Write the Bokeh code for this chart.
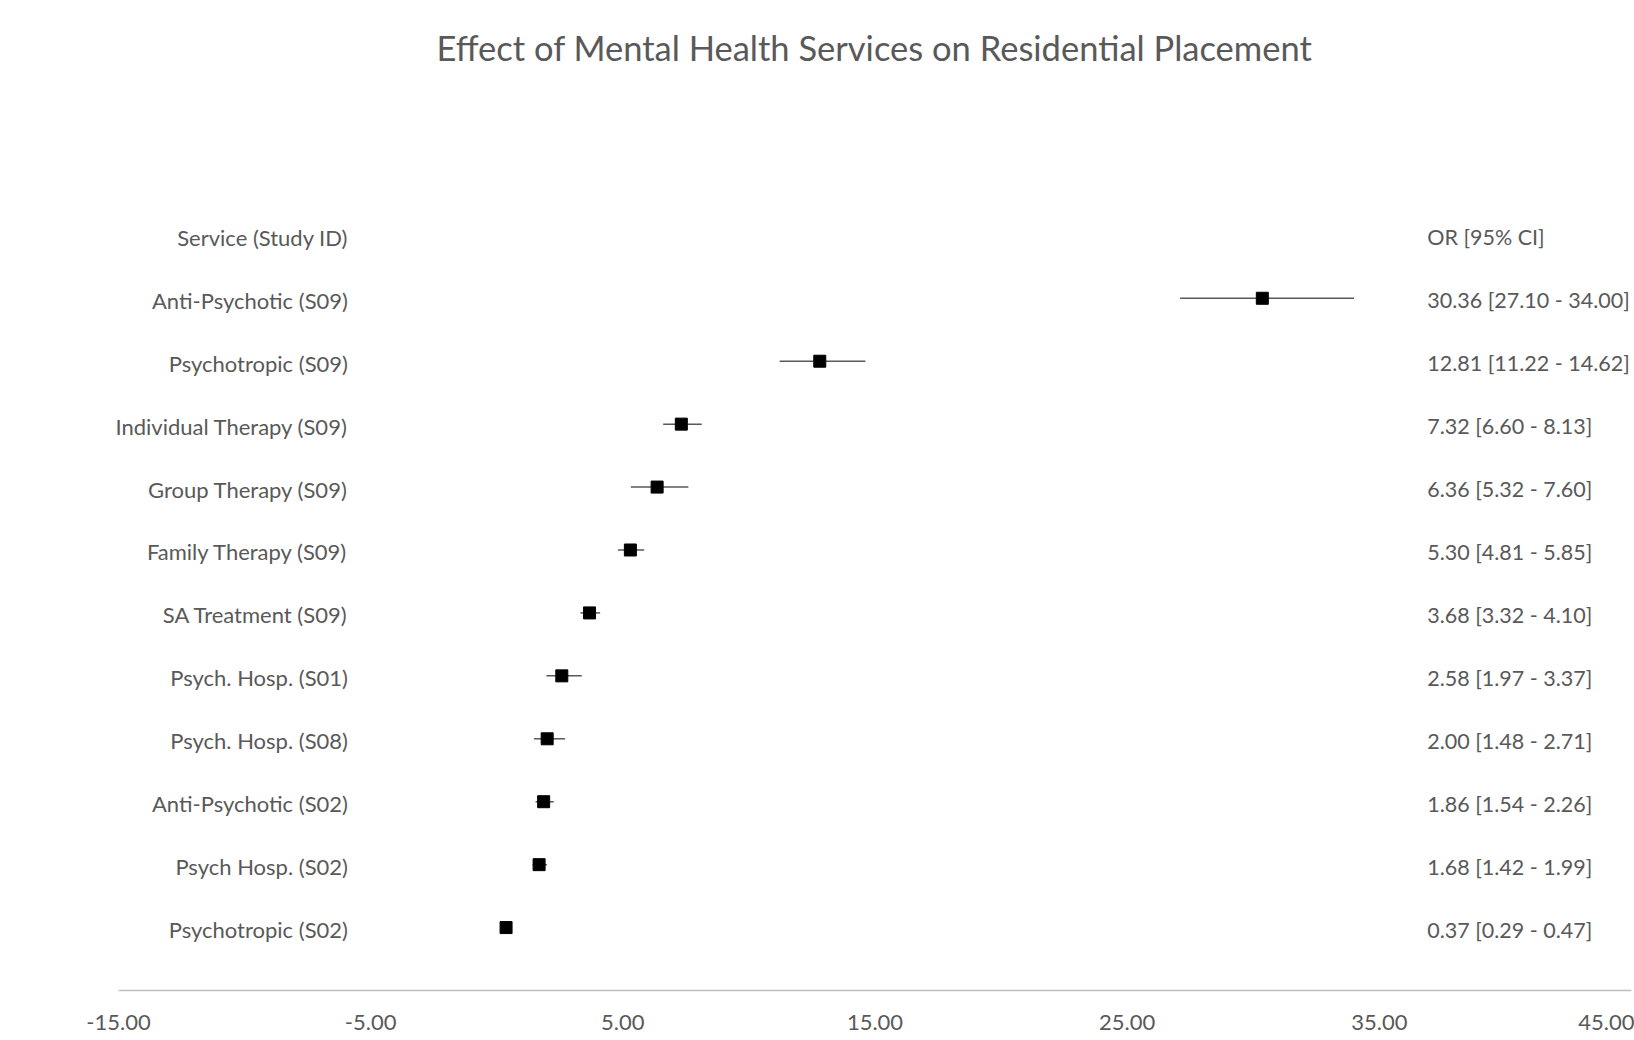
from bokeh.plotting import figure
from bokeh.models import ColumnDataSource, FixedTicker, NumeralTickFormatter, Range1d
from bokeh.core.properties import value
from bokeh.embed import file_html
from bokeh.resources import INLINE

# ---- data ----
services = [
    "Anti-Psychotic (S09)",
    "Psychotropic (S09)",
    "Individual Therapy (S09)",
    "Group Therapy (S09)",
    "Family Therapy (S09)",
    "SA Treatment (S09)",
    "Psych. Hosp. (S01)",
    "Psych. Hosp. (S08)",
    "Anti-Psychotic (S02)",
    "Psych Hosp. (S02)",
    "Psychotropic (S02)",
]
odds_ratio = [30.36, 12.81, 7.32, 6.36, 5.30, 3.68, 2.58, 2.00, 1.86, 1.68, 0.37]
ci_low = [27.10, 11.22, 6.60, 5.32, 4.81, 3.32, 1.97, 1.48, 1.54, 1.42, 0.29]
ci_high = [34.00, 14.62, 8.13, 7.60, 5.85, 4.10, 3.37, 2.71, 2.26, 1.99, 0.47]
x_ticks = [-15, -5, 5, 15, 25, 35, 45]
left_header = "Service (Study ID)"
right_header = "OR [95% CI]"

# ---- styling constants ----
FONT = "Lato"
TEXT_COLOR = "#595959"
LEFT_SIZE = "22px"
RIGHT_SIZE = "21.5px"
LEFT_X = -5.9
RIGHT_X = 36.9
AXIS_MIN, AXIS_MAX = -15, 45
PX_PER_UNIT = 25.22
LEFT_MARGIN_PX = 118
ROW_PX = 62.94
TOP_BORDER = 70
FRAME_TOP_PX = 109  # where y=14 should sit

n = len(services)
rows = list(range(n, 0, -1))
or_labels = [f"{o:.2f} [{l:.2f} - {h:.2f}]" for o, l, h in zip(odds_ratio, ci_low, ci_high)]

src = ColumnDataSource(dict(
    y=rows, name=services, orv=odds_ratio, lo=ci_low, hi=ci_high, lab=or_labels,
))

p = figure(
    width=1634, height=1040,
    x_range=Range1d(AXIS_MIN - LEFT_MARGIN_PX / PX_PER_UNIT, AXIS_MAX),
    y_range=Range1d(0, 14 + (FRAME_TOP_PX - TOP_BORDER) / ROW_PX),
    output_backend="svg", toolbar_location=None,
    y_axis_location=None,
    min_border_left=0, min_border_right=3,
    min_border_top=TOP_BORDER, min_border_bottom=50,
    title="Effect of Mental Health Services on Residential Placement",
)
p.outline_line_color = None
p.grid.visible = False
p.background_fill_color = "white"
p.border_fill_color = "white"

p.title.align = "left"
p.title.offset = 436
p.title.text_font = FONT
p.title.text_font_size = "34.5px"
p.title.text_font_style = "normal"
p.title.text_color = TEXT_COLOR
p.title.standoff = 5

ax = p.xaxis[0]
ax.bounds = (AXIS_MIN, AXIS_MAX)
ax.ticker = FixedTicker(ticks=x_ticks)
ax.formatter = NumeralTickFormatter(format="0.00")
ax.axis_line_color = "#BFBFBF"
ax.axis_line_width = 1.5
ax.major_tick_line_color = None
ax.minor_tick_line_color = None
ax.major_tick_out = 0
ax.major_tick_in = 0
ax.major_label_standoff = 24
ax.major_label_text_font = FONT
ax.major_label_text_font_size = "22px"
ax.major_label_text_color = TEXT_COLOR

# error bars
p.segment(x0="lo", y0="y", x1="hi", y1="y", source=src, line_color="#595959", line_width=1.5)
# markers
p.scatter(x="orv", y="y", source=src, marker="square", size=12, fill_color="black", line_color="black")

# labels
p.text(x=LEFT_X, y="y", text="name", source=src, text_align="right", text_baseline="middle",
       text_font=value(FONT), text_font_size=LEFT_SIZE, text_color=TEXT_COLOR, y_offset=2)
p.text(x=RIGHT_X, y="y", text="lab", source=src, text_align="left", text_baseline="middle",
       text_font=value(FONT), text_font_size=RIGHT_SIZE, text_color=TEXT_COLOR, y_offset=2)
p.text(x=[LEFT_X], y=[n + 1], text=[left_header], text_align="right", text_baseline="middle",
       text_font=value(FONT), text_font_size=LEFT_SIZE, text_color=TEXT_COLOR, y_offset=2)
p.text(x=[RIGHT_X], y=[n + 1], text=[right_header], text_align="left", text_baseline="middle",
       text_font=value(FONT), text_font_size=RIGHT_SIZE, text_color=TEXT_COLOR, y_offset=2)

open("out.html", "w").write(file_html(p, INLINE))
